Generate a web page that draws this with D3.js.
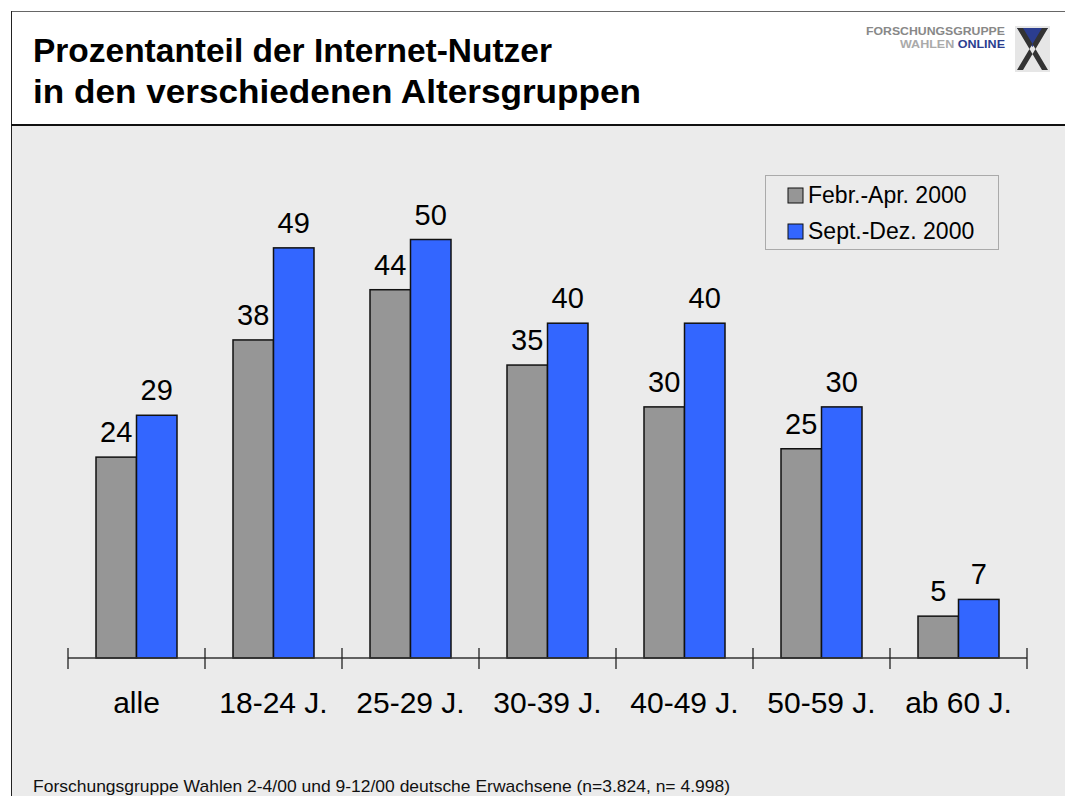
<!DOCTYPE html>
<meta charset="utf-8">
<style>
  body {
    margin: 0;
    background-color: white;
    font-family: 'Liberation Sans', Arial, sans-serif;
  }
</style>
<script src="https://d3js.org/d3.v7.min.js"></script>
<body>
<div id="chart"></div>
<script>
  // data
  const categories = ["alle", "18-24 J.", "25-29 J.", "30-39 J.", "40-49 J.", "50-59 J.", "ab 60 J."];
  const seriesNames = ["Febr.-Apr. 2000", "Sept.-Dez. 2000"];
  const febApr = [24, 38, 44, 35, 30, 25, 5];
  const septDez = [29, 49, 50, 40, 40, 30, 7];
  const seriesColors = ["#969696", "#3366ff"];

  const titleLines = ["Prozentanteil der Internet-Nutzer", "in den verschiedenen Altersgruppen"];
  const footer = "Forschungsgruppe Wahlen 2-4/00 und 9-12/00 deutsche Erwachsene (n=3.824, n= 4.998)";

  const width = 1065, height = 796;

  const svg = d3.select("#chart")
    .append("svg")
      .attr("width", width)
      .attr("height", height)
      .style("display", "block");

  // frame: white header, grey chart area
  svg.append("rect").attr("x", 0).attr("y", 0).attr("width", width).attr("height", height).attr("fill", "white");
  svg.append("rect").attr("x", 11).attr("y", 126).attr("width", width - 11).attr("height", height - 126).attr("fill", "#ebebeb");
  svg.append("line").attr("x1", 11).attr("x2", width).attr("y1", 11.5).attr("y2", 11.5).attr("stroke", "#666").attr("stroke-width", 1);
  svg.append("line").attr("x1", 11.5).attr("x2", 11.5).attr("y1", 11).attr("y2", height).attr("stroke", "#222").attr("stroke-width", 1);
  svg.append("line").attr("x1", 11).attr("x2", width).attr("y1", 125).attr("y2", 125).attr("stroke", "#111").attr("stroke-width", 2);

  // title (stretched a little to the width in the picture)
  const titleWidths = [519, 608];
  svg.selectAll(".title")
    .data(titleLines)
    .enter()
    .append("text")
      .attr("class", "title")
      .attr("x", 33)
      .attr("y", (d, i) => 62 + i * 41)
      .attr("font-size", "33px")
      .attr("font-weight", "bold")
      .attr("fill", "black")
      .attr("textLength", (d, i) => titleWidths[i])
      .attr("lengthAdjust", "spacingAndGlyphs")
      .text(d => d);

  // logo (rough)
  const logo = svg.append("g").attr("transform", "translate(866,26)");
  logo.append("text").attr("x", 0).attr("y", 9)
    .attr("font-size", "10px").attr("font-weight", "bold").attr("fill", "#888")
    .attr("textLength", 139).attr("lengthAdjust", "spacingAndGlyphs")
    .text("FORSCHUNGSGRUPPE");
  logo.append("text").attr("x", 34).attr("y", 22)
    .attr("font-size", "10px").attr("font-weight", "bold")
    .attr("textLength", 105).attr("lengthAdjust", "spacingAndGlyphs")
    .call(t => {
      t.append("tspan").attr("fill", "#aaa").text("WAHLEN ");
      t.append("tspan").attr("fill", "#2b3d8f").text("ONLINE");
    });
  logo.append("rect").attr("x", 149).attr("y", 0).attr("width", 35).attr("height", 46).attr("fill", "#e6e6e6");
  logo.append("path").attr("d", "M151,2 L182,2 L166.5,21 Z").attr("fill", "#2b3d8f");
  logo.append("path").attr("d", "M151,2 L157,2 L182,44 L176,44 Z M182,2 L176,2 L151,44 L157,44 Z").attr("fill", "#333");

  // scales
  const x = d3.scaleBand()
    .domain(categories)
    .range([68, 1027])
    .paddingInner(0)
    .paddingOuter(0);

  const xSub = d3.scaleBand()
    .domain(seriesNames)
    .range([28, x.bandwidth() - 28]);

  const y = d3.scaleLinear()
    .domain([0, 50])
    .range([658, 239.5]);

  const rows = categories.map((c, i) => ({
    cat: c,
    values: [
      { name: seriesNames[0], value: febApr[i], color: seriesColors[0] },
      { name: seriesNames[1], value: septDez[i], color: seriesColors[1] }
    ]
  }));

  const groups = svg.selectAll(".group")
    .data(rows)
    .enter()
    .append("g")
      .attr("class", "group")
      .attr("transform", d => "translate(" + x(d.cat) + ",0)");

  groups.selectAll("rect")
    .data(d => d.values)
    .enter()
    .append("rect")
      .attr("x", d => xSub(d.name))
      .attr("y", d => y(d.value))
      .attr("width", xSub.bandwidth())
      .attr("height", d => y(0) - y(d.value))
      .attr("fill", d => d.color)
      .attr("stroke", "#111")
      .attr("stroke-width", 1.5);

  groups.selectAll(".val")
    .data(d => d.values)
    .enter()
    .append("text")
      .attr("class", "val")
      .attr("x", d => xSub(d.name) + xSub.bandwidth() / 2)
      .attr("y", d => y(d.value) - 15)
      .attr("text-anchor", "middle")
      .attr("font-size", "29px")
      .attr("fill", "black")
      .text(d => d.value);

  // x axis with ticks at band edges
  const axis = svg.append("g").attr("transform", "translate(0," + y(0) + ")");
  axis.append("line")
    .attr("x1", x.range()[0]).attr("x2", x.range()[1])
    .attr("stroke", "#333").attr("stroke-width", 1.3);
  const edges = categories.map(c => x(c)).concat([x.range()[1]]);
  axis.selectAll(".tick")
    .data(edges)
    .enter()
    .append("line")
      .attr("x1", d => d).attr("x2", d => d)
      .attr("y1", -10).attr("y2", 11)
      .attr("stroke", "#222").attr("stroke-width", 1.3);
  axis.selectAll(".cat")
    .data(categories)
    .enter()
    .append("text")
      .attr("x", d => x(d) + x.bandwidth() / 2)
      .attr("y", 55)
      .attr("text-anchor", "middle")
      .attr("font-size", "30px")
      .attr("fill", "black")
      .text(d => d);

  // legend
  const legend = svg.append("g").attr("transform", "translate(765,175)");
  legend.append("rect")
    .attr("x", 0.5).attr("y", 0.5).attr("width", 233).attr("height", 74)
    .attr("fill", "#ebebeb").attr("stroke", "#aaa").attr("stroke-width", 1);
  const items = legend.selectAll(".item")
    .data(seriesNames)
    .enter()
    .append("g")
      .attr("transform", (d, i) => "translate(23," + (13 + i * 36) + ")");
  items.append("rect")
    .attr("width", 15).attr("height", 15)
    .attr("fill", (d, i) => seriesColors[i])
    .attr("stroke", "#111").attr("stroke-width", 1);
  items.append("text")
    .attr("x", 20).attr("y", 15)
    .attr("font-size", "23px")
    .attr("fill", "black")
    .text(d => d);

  // source note
  svg.append("text")
    .attr("x", 33)
    .attr("y", 792)
    .attr("font-size", "17px")
    .attr("fill", "#111")
    .attr("textLength", 697)
    .attr("lengthAdjust", "spacingAndGlyphs")
    .text(footer);
</script>
</body>
